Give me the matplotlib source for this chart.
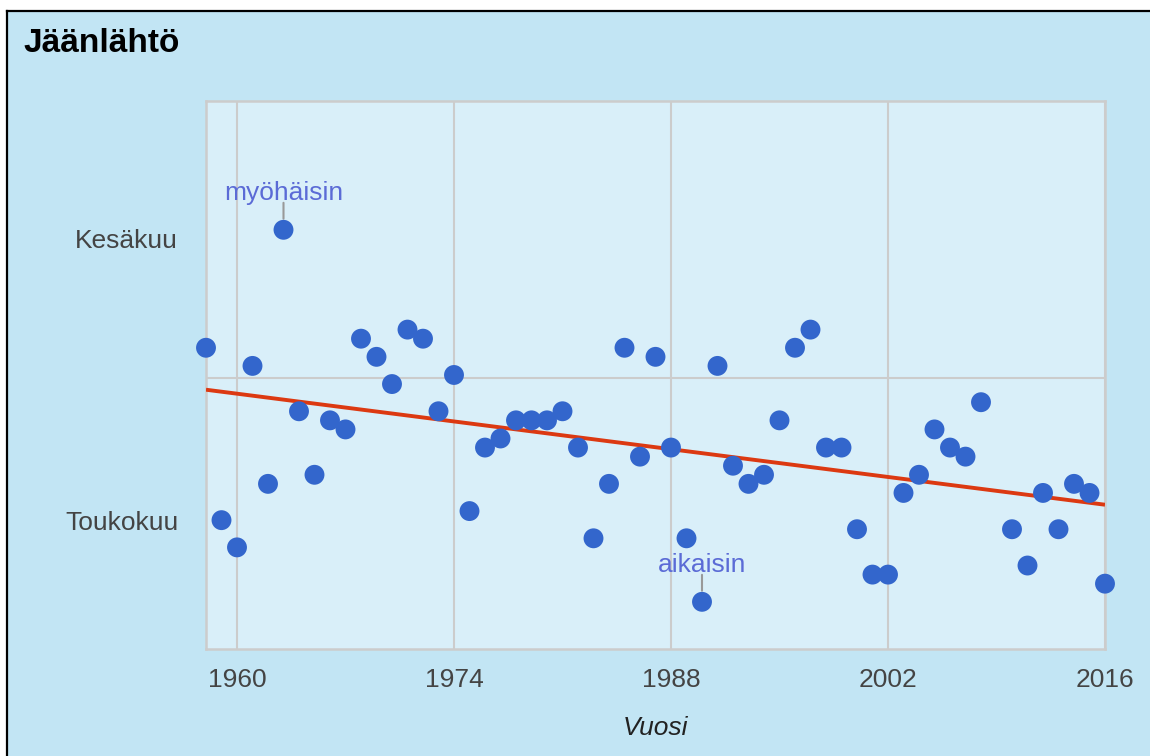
import numpy as np
import matplotlib
matplotlib.use("Agg")
import matplotlib.pyplot as plt
from matplotlib.patches import Rectangle
from matplotlib.lines import Line2D

# ---- data ----
years = list(range(1958, 2009)) + list(range(2010, 2017))
ice_out_day = [140, 121, 118, 138, 125, 153, 133, 126, 132, 131,
               141, 139, 136, 142, 141, 133, 137, 122, 129, 130,
               132, 132, 132, 133, 129, 119, 125, 140, 128, 139,
               129, 119, 112, 138, 127, 125, 126, 132, 140, 142,
               129, 129, 120, 115, 115, 124, 126, 131, 129, 128,
               134,
               120, 116, 124, 120, 125, 124, 114]
x_ticks = [1960, 1974, 1988, 2002, 2016]
y_tick_days = [121, 152]
y_tick_labels = ["Toukokuu", "Kesäkuu"]
title = "Jäänlähtö"
x_label = "Vuosi"
late_label = "myöhäisin"
early_label = "aikaisin"

W, H = 1150, 756
BG_OUT = "#C2E5F4"
BG_IN = "#D9EFF9"
GRID = "#CCCCCC"
BLUE = "#3366CC"
RED = "#DC3912"
ANN = "#5B6BD6"

plt.rcParams['font.family'] = ['Liberation Sans', 'DejaVu Sans']

fig = plt.figure(figsize=(W / 100, H / 100), dpi=100, facecolor="white")

# outer panel with black top/left border
fig.add_artist(Rectangle((7 / W, 0), 1 - 7 / W, 1 - 11 / H, transform=fig.transFigure,
                         facecolor=BG_OUT, edgecolor="none", zorder=-10))
fig.add_artist(Line2D([7 / W, 7 / W], [0, 1 - 11 / H], transform=fig.transFigure,
                      color="black", lw=1.6))
fig.add_artist(Line2D([7 / W, 1], [1 - 11 / H, 1 - 11 / H], transform=fig.transFigure,
                      color="black", lw=1.6))

left, right, top, bottom = 206, 1105, 100.5, 649
ax = fig.add_axes([left / W, 1 - bottom / H, (right - left) / W, (bottom - top) / H])
ax.set_facecolor(BG_IN)

ax.set_xlim(1958, 2016)
ax.set_ylim(106.8, 167.25)

# grid
for xv in x_ticks:
    ax.axvline(xv, color=GRID, lw=1.5, zorder=1)
ax.axhline(136.7, color=GRID, lw=1.5, zorder=1)

for s in ax.spines.values():
    s.set_color(GRID)
    s.set_linewidth(1.8)

# trend line (linear regression)
xa = np.array(years, dtype=float)
ya = np.array(ice_out_day, dtype=float)
k, b = np.polyfit(xa, ya, 1)
xt = np.array([1958, 2016], dtype=float)
ax.plot(xt, k * xt + b, color=RED, lw=2.8, zorder=3, solid_capstyle="butt")

# points
ax.scatter(years, ice_out_day, s=205, color=BLUE, edgecolors="none", zorder=4,
           clip_on=False)

# annotations
imax = int(np.argmax(ya))
imin = int(np.argmin(ya))
for i, lab in [(imax, late_label), (imin, early_label)]:
    ax.annotate("", xy=(years[i], ice_out_day[i]), xycoords="data",
                xytext=(0, 27), textcoords="offset pixels",
                arrowprops=dict(arrowstyle="-", color="#999999", lw=1.5,
                                shrinkA=0, shrinkB=8), zorder=2)
    ax.annotate(lab, xy=(years[i], ice_out_day[i]), xycoords="data",
                xytext=(0, 30), textcoords="offset pixels",
                ha="center", va="baseline", color=ANN, fontsize=19, zorder=5)

ax.set_xticks(x_ticks)
ax.set_xticklabels([str(v) for v in x_ticks])
ax.set_yticks(y_tick_days)
ax.set_yticklabels(y_tick_labels)
ax.tick_params(axis="both", length=0, labelsize=19, labelcolor="#444444")
ax.tick_params(axis="x", pad=14)
ax.tick_params(axis="y", pad=20)

ax.set_xlabel(x_label, fontsize=19, style="italic", color="#222222", labelpad=17)

fig.text(23 / W, 1 - 44 / H, title, ha="left", va="center", fontsize=24,
         fontweight="bold", color="black")

fig.savefig("out.png", dpi=100, facecolor=fig.get_facecolor())
